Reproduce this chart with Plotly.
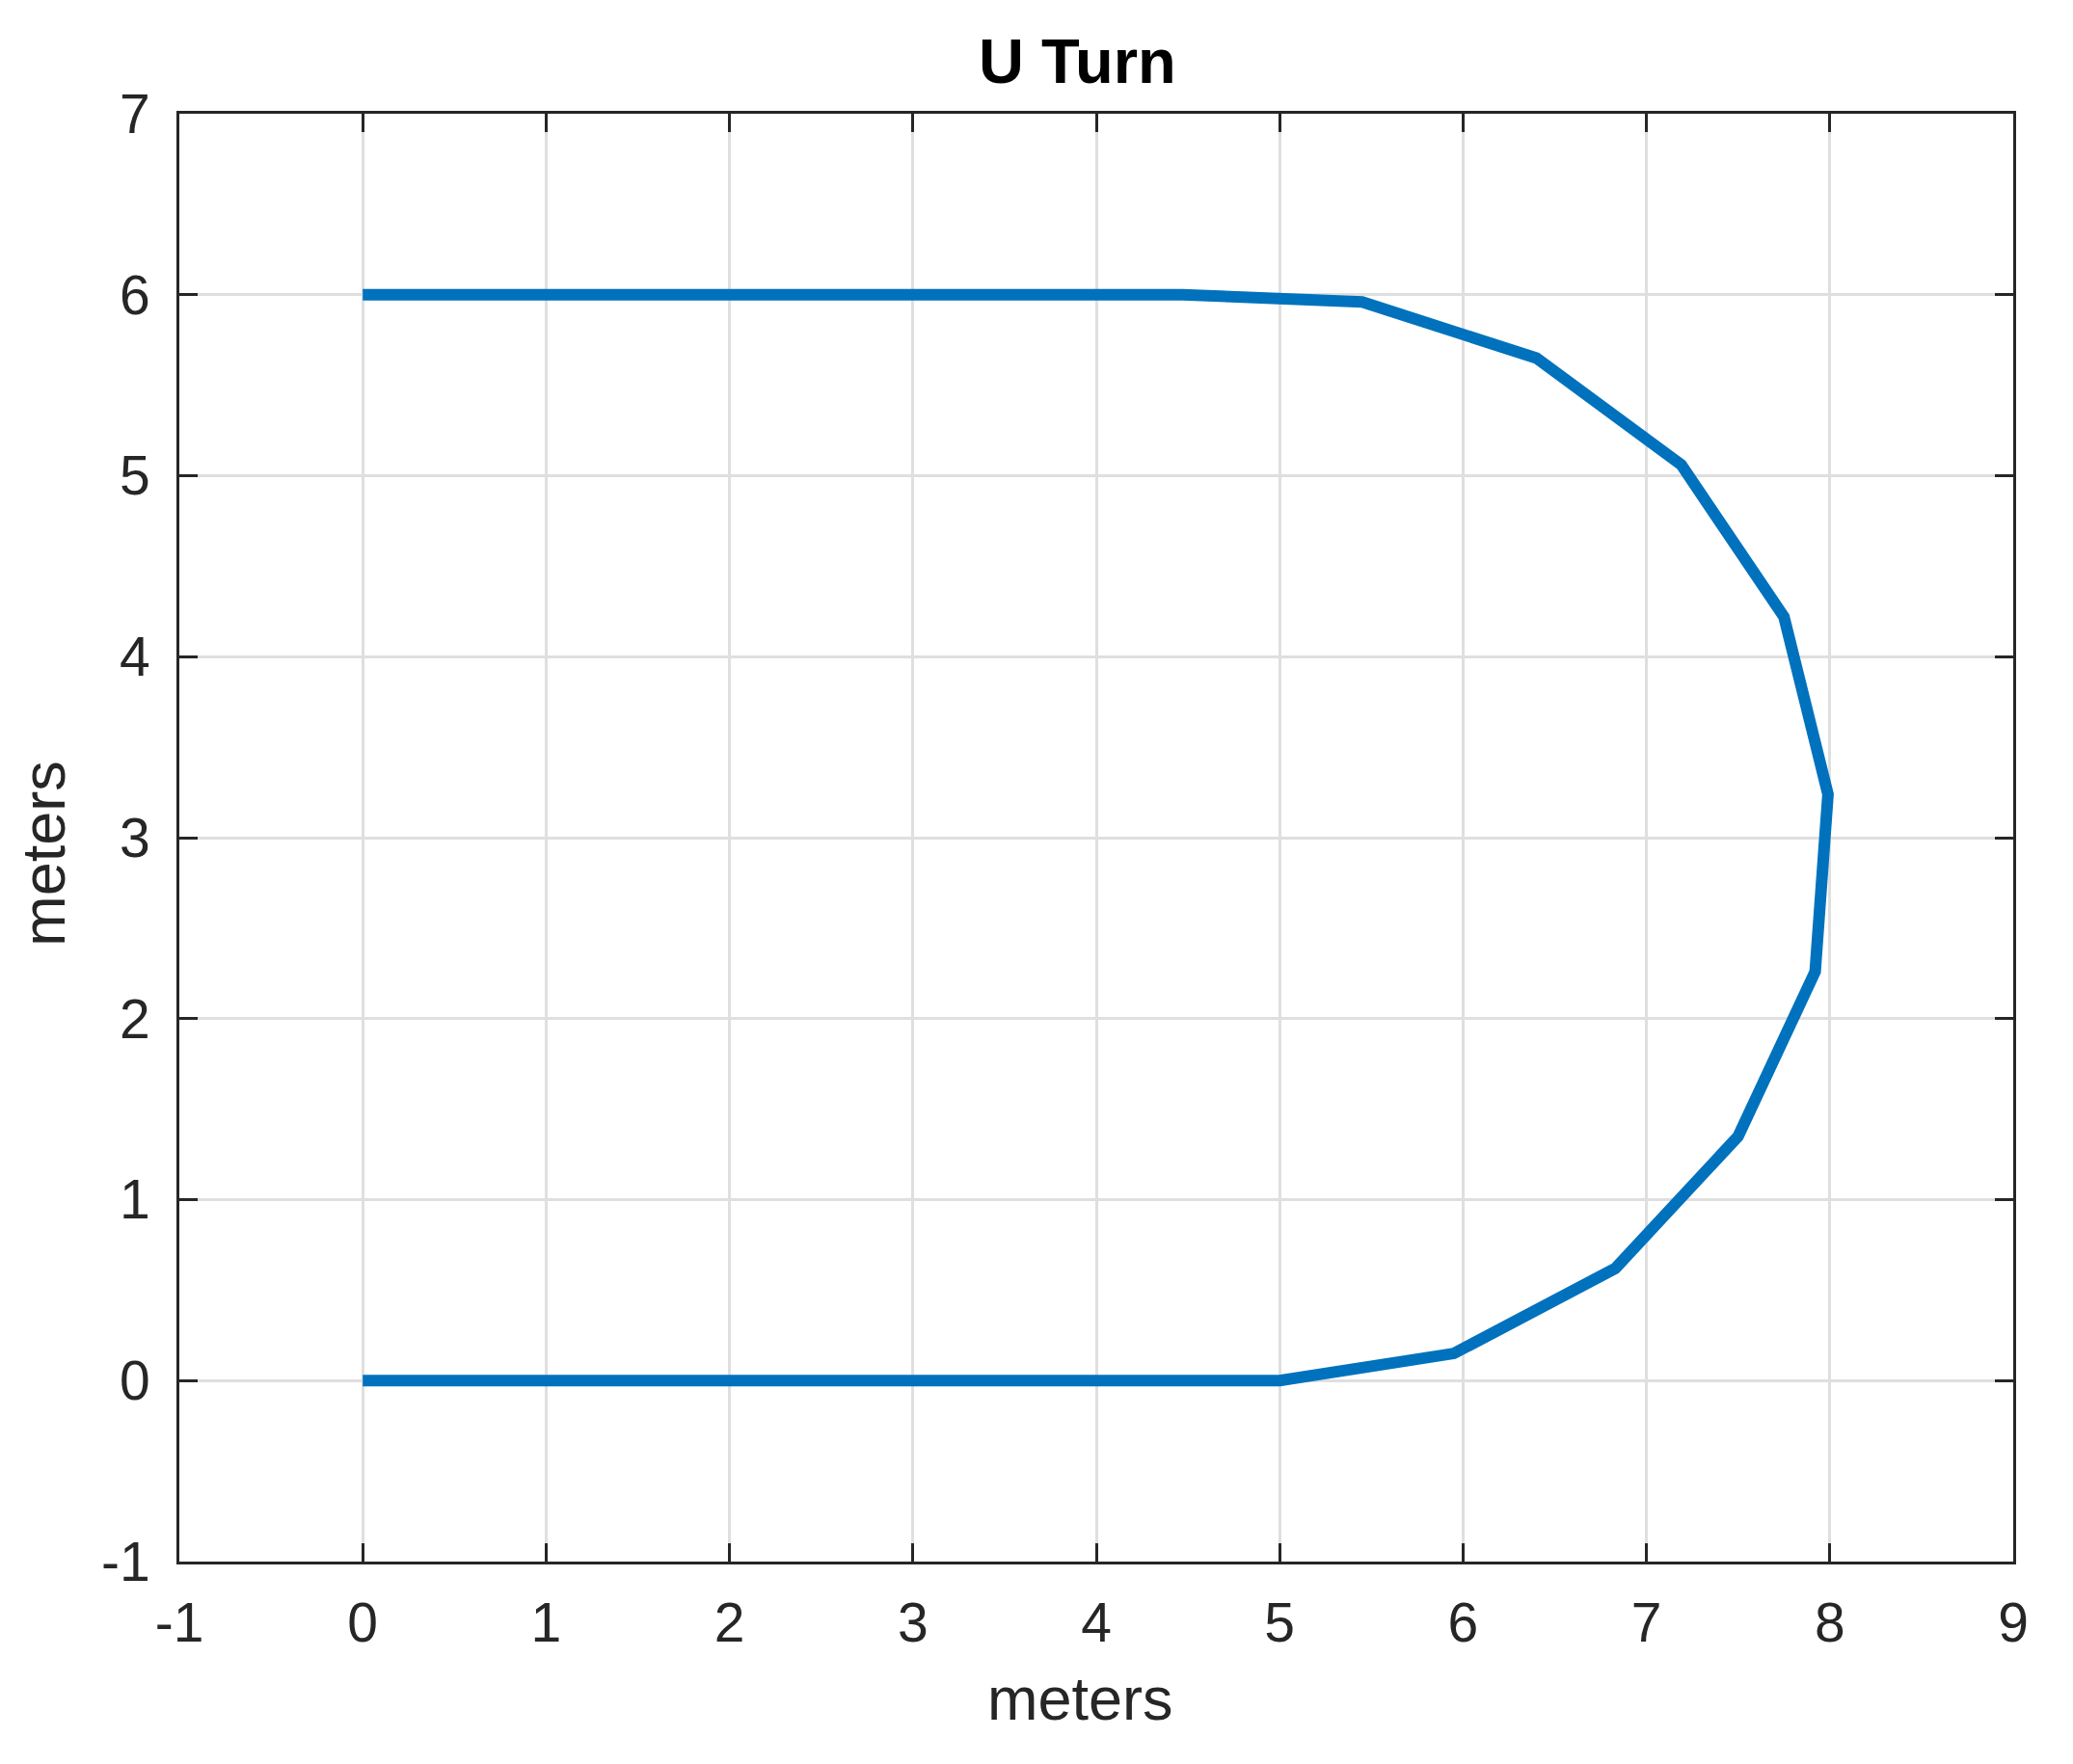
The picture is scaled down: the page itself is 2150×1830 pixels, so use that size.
import plotly.graph_objects as go

# path of the U turn (meters)
path_x = [0, 5.0, 5.95, 6.83, 7.50, 7.92, 7.99, 7.75, 7.19, 6.40, 5.45, 4.47, 0]
path_y = [0, 0, 0.15, 0.62, 1.35, 2.26, 3.24, 4.22, 5.06, 5.65, 5.96, 6.0, 6.0]

x_ticks = [-1, 0, 1, 2, 3, 4, 5, 6, 7, 8, 9]
y_ticks = [-1, 0, 1, 2, 3, 4, 5, 6, 7]

FONT = 'Liberation Sans, Arial, sans-serif'

fig = go.Figure()
fig.add_trace(go.Scatter(x=path_x, y=path_y, mode='lines',
                         line=dict(color='#0072BD', width=12), hoverinfo='skip'))

axis_common = dict(
    showline=True, linecolor='#262626', linewidth=3, mirror='ticks',
    ticks='inside', ticklen=19, tickwidth=3, tickcolor='#262626',
    showgrid=True, gridcolor='#dfdfdf', gridwidth=3, zeroline=False,
    tickfont=dict(family=FONT, size=57, color='#262626'),
)

fig.update_layout(
    width=2150, height=1830,
    paper_bgcolor='white', plot_bgcolor='white',
    margin=dict(l=178, r=70, t=110, b=218),
    showlegend=False,
    title=dict(text='<b>U Turn</b>', x=0.516, xanchor='center', y=0.970, yanchor='middle',
               font=dict(family=FONT, size=65, color='black')),
    xaxis=dict(range=[-1, 9], tickvals=x_ticks, ticktext=[str(v) for v in x_ticks],
               ticklabelstandoff=12, **axis_common),
    yaxis=dict(range=[-1, 7], tickvals=y_ticks, ticktext=[str(v) for v in y_ticks],
               ticklabelstandoff=16, **axis_common),
)

# axis labels
fig.add_annotation(text='meters', xref='paper', yref='paper', x=0.4913, y=-0.0945,
                   xanchor='center', yanchor='middle', showarrow=False,
                   font=dict(family=FONT, size=63, color='#262626'))
fig.add_annotation(text='meters', xref='paper', yref='paper', x=-0.0745, y=0.489,
                   xanchor='center', yanchor='middle', textangle=-90, showarrow=False,
                   font=dict(family=FONT, size=63, color='#262626'))

fig.write_html("out.html")
